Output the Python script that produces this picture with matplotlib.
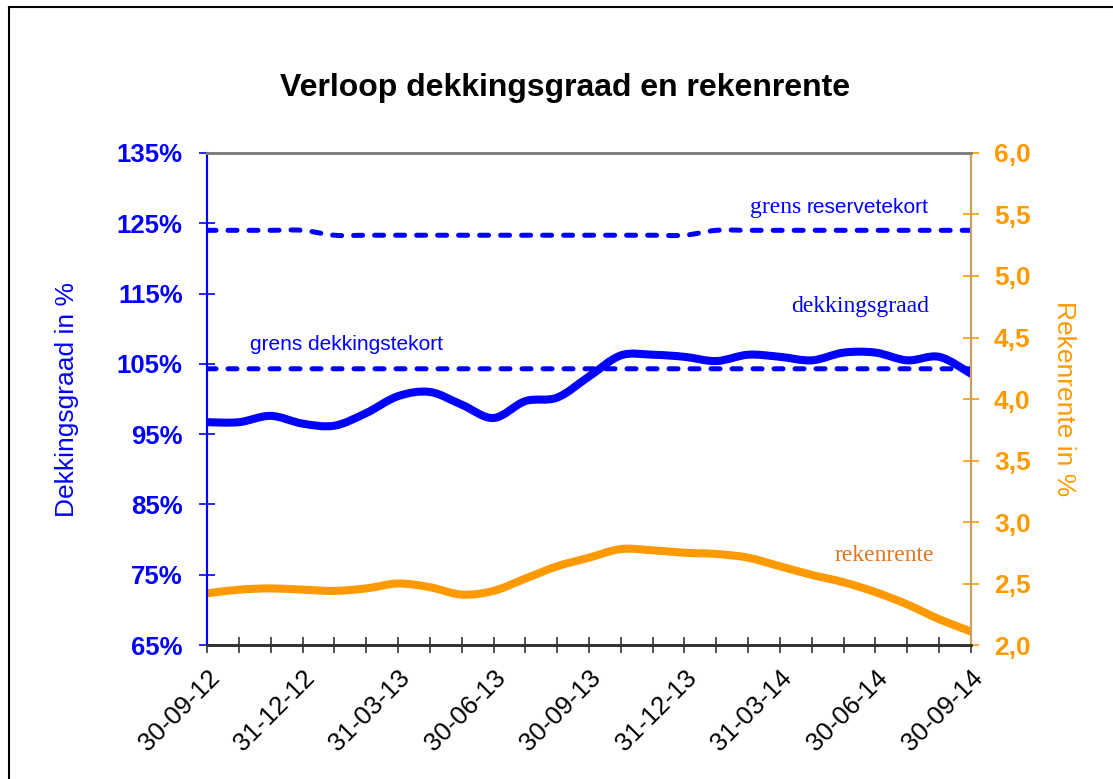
import matplotlib
matplotlib.use("Agg")
import matplotlib.pyplot as plt
import numpy as np
from matplotlib.path import Path
from matplotlib.patches import PathPatch
from matplotlib.lines import Line2D

# monthly observations, 30-09-12 .. 30-09-14
quarter_labels = ["30-09-12", "31-12-12", "31-03-13", "30-06-13", "30-09-13",
                  "31-12-13", "31-03-14", "30-06-14", "30-09-14"]
dekkingsgraad = [96.7, 96.7, 97.6, 96.5, 96.2, 98.0, 100.4, 101.0, 99.2, 97.3,
                 99.7, 100.2, 103.2, 106.2, 106.3, 106.0, 105.4, 106.3, 106.0,
                 105.5, 106.6, 106.6, 105.5, 106.0, 103.6]
grens_reservetekort = [124.0] * 4 + [123.3] * 12 + [124.0] * 9
grens_dekkingstekort = [104.3] * 25
rekenrente = [2.42, 2.45, 2.46, 2.45, 2.44, 2.46, 2.50, 2.47, 2.41, 2.44,
              2.54, 2.64, 2.71, 2.78, 2.77, 2.75, 2.74, 2.71, 2.64, 2.57,
              2.51, 2.43, 2.33, 2.21, 2.11]

BLUE = "#0000FF"
ORANGE = "#FF9900"


def smooth_path(xs, ys):
    """Catmull-Rom curve through the points, as a bezier Path (like Excel's smoothed line)."""
    pts = np.column_stack([xs, ys]).astype(float)
    n = len(pts)
    verts = [pts[0]]
    codes = [Path.MOVETO]
    for i in range(n - 1):
        p0 = pts[max(i - 1, 0)]
        p1 = pts[i]
        p2 = pts[i + 1]
        p3 = pts[min(i + 2, n - 1)]
        verts += [p1 + (p2 - p0) / 6.0, p2 - (p3 - p1) / 6.0, p2]
        codes += [Path.CURVE4] * 3
    return Path(verts, codes)


def add_curve(ax, xs, ys, **kw):
    patch = PathPatch(smooth_path(xs, ys), fill=False, **kw)
    patch.set_capstyle("round")
    patch.set_joinstyle("round")
    ax.add_patch(patch)


months = np.arange(len(dekkingsgraad))

fig = plt.figure(figsize=(11.13, 7.79), dpi=100)
ax = fig.add_axes([0.186, 0.172, 0.6864, 0.6316])
ax2 = ax.twinx()

add_curve(ax, months, grens_reservetekort, edgecolor=BLUE, linewidth=3.6,
          linestyle=(0, (1.8, 2.4)))
add_curve(ax, months, grens_dekkingstekort, edgecolor=BLUE, linewidth=3.6,
          linestyle=(0, (1.8, 2.4)))
add_curve(ax, months, dekkingsgraad, edgecolor=BLUE, linewidth=5.8)
add_curve(ax2, months, rekenrente, edgecolor=ORANGE, linewidth=5.8)

ax.set_xlim(0, 24)
ax.set_ylim(65, 135)
ax2.set_ylim(2.0, 6.0)

# x ticks every month, label every quarter
xlabels = []
for m in months:
    xlabels.append(quarter_labels[m // 3] if m % 3 == 0 else "")
ax.set_xticks(months)
ax.set_xticklabels(xlabels, rotation=45, ha="right", rotation_mode="anchor",
                   fontsize=18.5, family="Liberation Sans")
ax.tick_params(axis="x", direction="inout", length=12, width=1.2, color="#333333", pad=9)

ax.set_yticks(np.arange(65, 136, 10))
ax.set_yticklabels(["%d%%" % v for v in range(65, 136, 10)], fontsize=18.5,
                   fontweight="bold", color=BLUE, family="Liberation Sans")
ax.tick_params(axis="y", direction="inout", length=11, width=1.2, color=BLUE, pad=12)

ax2.set_yticks(np.arange(2.0, 6.01, 0.5))
ax2.set_yticklabels([("%.1f" % v).replace(".", ",") for v in np.arange(2.0, 6.01, 0.5)],
                    fontsize=19, fontweight="bold", color=ORANGE, family="Liberation Sans")
ax2.tick_params(axis="y", direction="inout", length=11, width=1.2, color=ORANGE, pad=11)

for a in (ax, ax2):
    a.spines["top"].set_color("#808080")
    a.spines["top"].set_linewidth(2)
    a.spines["left"].set_color(BLUE)
    a.spines["left"].set_linewidth(1.5)
    a.spines["right"].set_color("#C8A060")
    a.spines["right"].set_linewidth(1.5)
    a.spines["bottom"].set_color("#333333")
    a.spines["bottom"].set_linewidth(2)

ax.set_ylabel("Dekkingsgraad in %", fontsize=19, color=BLUE, family="Liberation Sans",
              labelpad=27)
ax2.set_ylabel("Rekenrente in %", fontsize=19, color=ORANGE, family="Liberation Sans",
               rotation=270, labelpad=33)

# line annotations
ax.text(1.35, 107.8, "grens dekkingstekort", fontsize=15, color=BLUE,
        family="Liberation Sans", ha="left", va="center")
ax.text(17.05, 127.2, "grens", fontsize=17, color=BLUE,
        family="Liberation Serif", ha="left", va="center")
ax.text(22.65, 127.2, "reservetekort", fontsize=15, color=BLUE,
        family="Liberation Sans", ha="right", va="center")
ax.text(22.7, 113.1, "dekkingsgraad", fontsize=17, color=BLUE,
        family="Liberation Serif", ha="right", va="center")
ax.text(22.85, 77.8, "rekenrente", fontsize=17, color="#E5751F",
        family="Liberation Serif", ha="right", va="center")

fig.text(0.508, 0.887, "Verloop dekkingsgraad en rekenrente", fontsize=23,
         fontweight="bold", family="Liberation Sans", ha="center", va="center")

# outer frame of the original picture (left and top edges visible)
fig.add_artist(Line2D([0.0081, 0.0081], [0.0, 0.991], color="black", linewidth=1.5,
                      transform=fig.transFigure))
fig.add_artist(Line2D([0.0081, 1.0], [0.991, 0.991], color="black", linewidth=1.5,
                      transform=fig.transFigure))

fig.savefig("out.png", dpi=100)
